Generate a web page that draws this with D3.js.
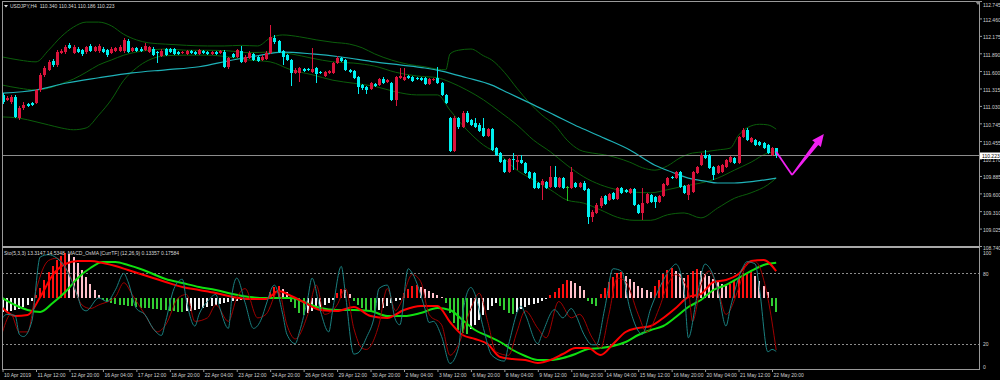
<!DOCTYPE html>
<html>
<head>
<meta charset="utf-8">
<script src="https://cdn.jsdelivr.net/npm/d3@7"></script>
<style>
  body { margin: 0; background: #000; }
  svg { display: block; }
  text { font-family: "Liberation Sans", Arial, sans-serif; }
</style>
</head>
<body>
<script>
// ---- data (USDJPY H4, bar index 1 = 10 Apr 2019 04:00) ----
let firstBar = 1;

let openP = [
  111.21,111.13,111.09,111.18,110.83,111.00,111.06,111.08,111.08,111.29,
  111.54,111.62,111.76,111.70,111.90,111.91,112.02,111.90,111.96,111.94,
  111.91,112.01,111.93,111.93,111.96,111.94,111.90,111.93,111.93,111.93,
  112.09,111.93,111.98,111.96,111.94,111.91,111.96,111.91,111.85,111.96,
  111.96,111.96,111.91,111.90,111.88,111.93,111.91,111.88,111.93,111.91,
  111.88,111.91,111.90,111.91,111.67,111.88,111.83,111.93,111.75,111.81,
  111.88,111.83,111.78,111.80,111.90,112.14,112.09,111.93,111.86,111.78,
  111.57,111.57,111.63,111.63,111.58,111.65,111.58,111.52,111.57,111.57,
  111.73,111.81,111.78,111.62,111.60,111.50,111.37,111.34,111.31,111.39,
  111.37,111.47,111.42,111.40,111.13,111.49,111.45,111.52,111.50,111.49,
  111.49,111.49,111.39,111.45,111.49,111.40,111.21,110.83,110.29,110.83,
  110.68,110.91,110.80,110.75,110.72,110.67,110.54,110.65,110.34,110.26,
  110.15,109.95,110.16,110.11,110.15,110.10,109.95,109.93,109.77,109.74,
  109.79,109.70,109.87,109.70,109.85,109.70,109.69,109.77,109.70,109.77,
  109.67,109.21,109.28,109.39,109.56,109.49,109.61,109.51,109.69,109.66,
  109.61,109.67,109.41,109.28,109.44,109.57,109.54,109.46,109.56,109.74,
  109.87,109.85,109.95,109.72,109.57,109.62,109.93,110.06,110.23,110.23,
  110.03,109.93,109.95,110.03,110.11,110.18,110.10,110.52,110.64,110.44,
  110.47,110.44,110.42,110.39,110.23,110.340
];
let highP = [
  111.24,111.19,111.21,111.21,111.03,111.09,111.08,111.09,111.31,111.57,
  111.68,111.78,111.80,111.94,111.96,112.02,112.06,112.03,111.99,111.96,
  112.01,112.04,112.01,112.04,111.99,111.96,111.99,112.00,112.02,112.14,
  112.12,112.00,112.00,111.99,112.06,112.01,111.99,111.93,111.96,111.98,
  111.98,111.98,111.93,111.93,111.94,111.94,111.93,111.96,111.94,111.93,
  111.93,111.93,111.94,111.94,111.83,111.90,111.96,112.01,111.86,111.93,
  111.90,111.85,111.86,111.93,112.35,112.19,112.11,111.94,111.88,111.80,
  111.65,111.67,111.65,111.65,111.98,111.67,111.60,111.60,111.62,111.75,
  111.85,111.83,111.80,111.63,111.62,111.52,111.39,111.35,111.42,111.40,
  111.49,111.50,111.47,111.42,111.52,111.65,111.65,111.54,111.52,111.50,
  111.50,111.50,111.49,111.49,111.67,111.42,111.22,110.85,110.86,110.85,
  110.95,110.95,110.82,110.83,110.75,110.83,110.67,110.67,110.36,110.28,
  110.16,110.18,110.26,110.23,110.23,110.11,109.97,109.95,109.79,109.83,
  109.80,110.05,110.05,109.87,109.87,109.72,110.03,109.79,109.79,109.80,
  109.69,109.33,109.44,109.56,109.57,109.61,109.62,109.70,109.70,109.67,
  109.69,109.69,109.43,109.69,109.61,109.59,109.56,109.57,109.77,109.87,
  109.88,109.97,109.97,109.74,109.75,109.97,110.05,110.26,110.31,110.24,
  110.05,110.06,110.08,110.16,110.21,110.19,110.54,110.67,110.67,110.52,
  110.49,110.46,110.44,110.41,110.36,110.341
];
let lowP = [
  111.06,111.11,111.06,110.83,110.80,110.96,111.01,111.03,111.06,111.26,
  111.50,111.60,111.67,111.67,111.88,111.88,111.96,111.88,111.90,111.85,
  111.88,111.91,111.91,111.90,111.90,111.83,111.88,111.91,111.91,111.90,
  111.90,111.91,111.91,111.91,111.93,111.90,111.85,111.73,111.83,111.85,
  111.90,111.86,111.86,111.88,111.86,111.88,111.86,111.86,111.88,111.86,
  111.86,111.86,111.88,111.65,111.63,111.81,111.81,111.73,111.73,111.80,
  111.76,111.75,111.76,111.78,111.88,112.04,111.90,111.70,111.76,111.35,
  111.55,111.42,111.58,111.60,111.57,111.40,111.55,111.50,111.55,111.55,
  111.71,111.75,111.60,111.57,111.47,111.22,111.29,111.22,111.29,111.34,
  111.35,111.39,111.40,111.11,111.03,111.47,111.44,111.47,111.42,111.45,
  111.44,111.37,111.37,111.44,111.39,111.19,111.06,110.27,110.27,110.65,
  110.67,110.75,110.70,110.67,110.60,110.52,110.52,110.29,110.21,110.10,
  109.93,109.93,109.98,109.98,110.08,109.92,109.83,109.67,109.67,109.49,
  109.67,109.69,109.69,109.69,109.67,109.48,109.67,109.69,109.69,109.64,
  109.10,109.13,109.26,109.36,109.41,109.48,109.49,109.49,109.59,109.61,
  109.59,109.39,109.26,109.16,109.43,109.44,109.36,109.44,109.54,109.72,
  109.83,109.83,109.69,109.59,109.49,109.61,109.92,110.05,110.16,110.00,
  109.82,109.92,109.93,110.02,110.10,110.08,110.08,110.50,110.46,110.42,
  110.37,110.37,110.33,110.24,110.21,110.186
];
let closeP = [
  111.09,111.16,111.18,110.85,111.00,111.05,111.03,111.05,111.29,111.54,
  111.65,111.75,111.70,111.91,111.93,111.99,111.98,112.00,111.91,111.88,
  111.99,111.93,111.99,112.01,111.91,111.86,111.96,111.98,112.00,112.11,
  111.91,111.98,111.93,111.93,112.01,111.99,111.86,111.90,111.93,111.86,
  111.91,111.88,111.88,111.91,111.93,111.90,111.88,111.94,111.90,111.88,
  111.91,111.88,111.93,111.67,111.81,111.83,111.94,111.75,111.83,111.90,
  111.78,111.76,111.83,111.90,112.16,112.07,111.91,111.83,111.78,111.57,
  111.62,111.65,111.60,111.62,111.63,111.55,111.57,111.58,111.60,111.73,
  111.81,111.76,111.62,111.58,111.49,111.34,111.32,111.29,111.40,111.35,
  111.47,111.40,111.45,111.13,111.50,111.52,111.50,111.49,111.44,111.47,
  111.45,111.39,111.47,111.47,111.40,111.21,111.08,110.29,110.83,110.68,
  110.91,110.77,110.72,110.68,110.62,110.54,110.65,110.31,110.23,110.11,
  109.95,110.16,110.15,110.15,110.10,109.93,109.85,109.69,109.69,109.80,
  109.69,109.87,109.70,109.85,109.69,109.70,109.95,109.70,109.77,109.66,
  109.21,109.30,109.41,109.52,109.43,109.59,109.51,109.69,109.61,109.62,
  109.67,109.41,109.28,109.44,109.59,109.46,109.46,109.56,109.75,109.85,
  109.85,109.95,109.70,109.61,109.74,109.95,110.03,110.23,110.18,110.02,
  109.90,110.05,110.06,110.15,110.19,110.10,110.52,110.64,110.47,110.50,
  110.39,110.39,110.34,110.26,110.34,110.223
];

// moving average (cyan) and Bollinger bands (dark green), read at sample bars
let maIdx = [1,9,16,24,32,40,48,56,62,68,75,82,90,96,102,106,112,118,122,127,133,139,145,151,157,161,165,169,172,176,181,186];
let maVal = [111.24,111.29,111.40,111.49,111.57,111.62,111.67,111.78,111.85,111.91,111.88,111.83,111.75,111.70,111.65,111.60,111.49,111.37,111.24,111.08,110.88,110.68,110.50,110.31,110.06,109.95,109.85,109.80,109.77,109.77,109.80,109.85];

let bbUpIdx = [1,5,9,12,15,18,21,24,27,30,33,36,40,45,50,54,58,62,65,68,72,76,80,84,87,90,94,98,102,105,107,108,110,113,116,118,121,124,127,130,133,136,139,142,145,148,151,154,157,160,163,166,169,172,175,177,179,182,184,186];
let bbUp = [111.83,111.78,111.75,111.94,112.16,112.32,112.40,112.40,112.34,112.20,112.11,112.06,112.04,112.02,112.01,112.01,112.02,112.01,112.14,112.19,112.16,112.11,112.07,112.04,111.98,111.88,111.78,111.71,111.67,111.63,111.62,111.88,111.94,111.96,111.85,111.78,111.58,111.32,111.08,110.88,110.72,110.47,110.31,110.26,110.23,110.18,110.11,110.02,109.98,110.05,110.18,110.26,110.28,110.31,110.34,110.55,110.67,110.73,110.72,110.65];

let bbMidIdx = [1,5,9,12,15,18,21,24,27,30,33,36,40,45,50,55,60,65,70,75,80,85,90,95,100,105,108,112,116,120,124,128,132,136,140,144,148,152,156,160,164,168,172,176,180,184,186];
let bbMid = [111.37,111.32,111.29,111.32,111.39,111.47,111.58,111.70,111.78,111.86,111.91,111.94,111.96,111.94,111.94,111.93,111.90,111.91,111.88,111.81,111.75,111.73,111.68,111.58,111.52,111.49,111.42,111.29,111.13,110.93,110.72,110.47,110.28,110.06,109.87,109.74,109.66,109.62,109.61,109.66,109.72,109.77,109.85,109.98,110.11,110.26,110.28];

let bbLowIdx = bbMidIdx;
let bbLow = [110.85,110.83,110.77,110.72,110.67,110.64,110.67,110.88,111.13,111.45,111.65,111.78,111.85,111.86,111.86,111.83,111.78,111.75,111.62,111.54,111.45,111.40,111.35,111.26,111.21,111.21,110.96,110.64,110.39,110.23,109.98,109.82,109.66,109.49,109.44,109.33,109.21,109.16,109.16,109.25,109.28,109.20,109.36,109.52,109.61,109.74,109.85];

// price axis labels
let priceTicks = [112.745,112.460,112.175,111.890,111.600,111.315,111.030,110.745,110.455,110.170,109.885,109.600,109.310,109.025,108.740];
let lastPrice = 110.223;

// time axis
let timeTickIdx = [1,9,17,25,33,41,49,57,65,73,81,89,97,105,113,121,129,137,145,153,161,169,177,185];
let timeTickLabels = ['10 Apr 2019','11 Apr 12:00','12 Apr 20:00','16 Apr 04:00','17 Apr 12:00','18 Apr 20:00',
  '22 Apr 04:00','23 Apr 12:00','24 Apr 20:00','26 Apr 04:00','29 Apr 12:00','30 Apr 20:00','2 May 04:00',
  '3 May 12:00','6 May 20:00','8 May 04:00','9 May 12:00','10 May 20:00','14 May 04:00','15 May 12:00',
  '16 May 20:00','20 May 04:00','21 May 12:00','22 May 20:00'];

// stochastic (5,3,3)
let stMainIdx = [1,2,4,5,6,8,10,12,14,16,19,20,21,24,26,28,30,31,33,35,37,39,40,42,44,45,47,48,50,52,53,55,56,57,59,61,63,64,66,68,69,71,72,74,75,77,79,80,82,83,85,86,88,90,91,93,95,96,98,99,102,103,104,106,108,110,111,113,114,116,118,121,122,125,126,129,130,133,135,137,138,140,142,143,145,147,149,151,154,156,158,161,162,164,165,167,169,170,172,174,175,178,179,181,182,184,185,186];
let stMain = [42,45,44,28,26,39,94,96,93,85,60,50,48,59,56,66,80,73,50,45,33,27,39,67,75,56,35,45,56,62,50,33,65,76,55,33,42,53,70,45,28,20,30,59,76,48,30,50,86,62,11,12,25,45,67,70,40,36,84,80,50,38,39,26,3,16,45,68,62,33,10,5,19,52,45,20,28,49,42,50,45,28,19,19,50,84,82,50,28,50,67,85,88,65,25,59,88,85,67,35,50,85,90,88,67,13,15,13.3];
let stSigIdx = [1,3,5,7,9,12,14,17,20,22,24,28,30,32,35,38,40,43,45,47,50,52,55,57,59,62,64,67,69,71,74,76,78,81,83,85,87,88,91,93,95,96,99,101,103,106,108,110,113,115,117,119,122,124,126,129,131,134,137,139,142,144,146,148,150,153,155,158,160,162,165,166,168,170,172,174,177,179,181,184,186];
let stSig = [30,45,30,30,65,91,93,79,53,50,53,60,72,62,45,30,36,59,62,39,42,53,39,59,67,42,45,65,36,24,45,70,45,53,67,33,16,15,36,67,48,53,79,73,45,36,10,19,50,63,39,13,10,30,48,33,25,56,42,45,25,16,45,76,73,45,30,50,70,79,65,39,70,82,67,45,67,88,90,59,14.5];

// MACD (12,26,9): main (red) and signal (green), read at sample bars
let macdIdx = [1,4,7,10,13,16,19,22,25,28,31,34,37,40,44,48,52,56,60,64,67,70,73,77,81,85,89,93,97,101,105,108,111,114,117,120,123,126,129,132,135,138,141,144,147,150,153,156,159,162,165,168,171,174,177,180,183,186];
let macdMain = [-0.050,-0.090,-0.085,0.005,0.115,0.170,0.185,0.185,0.175,0.160,0.140,0.120,0.100,0.080,0.055,0.040,0.025,0.005,-0.005,-0.005,0.035,0.010,-0.020,-0.060,-0.065,-0.045,-0.090,-0.100,-0.060,-0.040,-0.040,-0.120,-0.185,-0.205,-0.230,-0.295,-0.305,-0.310,-0.325,-0.310,-0.280,-0.250,-0.250,-0.285,-0.230,-0.170,-0.150,-0.140,-0.100,-0.050,0.005,0.020,0.080,0.090,0.120,0.185,0.190,0.134];
let macdSignal = [0.000,-0.035,-0.060,-0.070,-0.025,0.030,0.100,0.150,0.180,0.180,0.165,0.145,0.120,0.095,0.075,0.055,0.040,0.020,0.005,0.000,0.000,0.000,-0.020,-0.050,-0.060,-0.060,-0.065,-0.090,-0.090,-0.075,-0.050,-0.060,-0.110,-0.160,-0.190,-0.220,-0.260,-0.290,-0.310,-0.310,-0.300,-0.280,-0.255,-0.250,-0.240,-0.220,-0.185,-0.160,-0.140,-0.095,-0.045,-0.010,0.040,0.065,0.100,0.135,0.165,0.176];

// OsMA histogram, one value per bar
let osma = [
  -0.042,-0.040,-0.039,-0.037,-0.034,-0.028,-0.020,-0.010,
  0.009,0.030,0.054,0.078,0.096,0.114,0.126,0.135,
  0.132,0.123,0.105,0.084,0.063,0.042,0.024,0.009,
  -0.006,-0.012,-0.015,-0.018,-0.020,-0.021,-0.024,-0.025,-0.026,-0.029,-0.030,-0.031,-0.033,-0.034,-0.035,-0.037,-0.038,-0.039,-0.041,-0.042,
  -0.040,-0.038,-0.035,-0.033,-0.030,-0.027,-0.024,-0.021,-0.018,-0.015,-0.012,-0.009,
  -0.008,-0.006,-0.004,-0.005,-0.003,-0.002,-0.001,0.003,
  0.018,0.033,0.036,0.027,0.018,
  -0.012,-0.030,-0.045,-0.051,
  -0.045,-0.039,-0.033,-0.027,-0.021,-0.015,-0.006,
  0.015,0.027,0.024,0.012,
  -0.009,-0.021,-0.030,-0.036,-0.039,-0.042,
  -0.036,-0.030,-0.024,-0.015,-0.009,-0.006,
  0.015,0.027,0.036,0.039,0.033,
  0.027,0.021,0.015,0.009,0.003,
  -0.015,-0.045,-0.075,-0.096,-0.105,-0.108,
  -0.093,-0.081,-0.066,-0.051,-0.036,-0.024,-0.015,
  -0.024,-0.036,-0.045,-0.048,
  -0.042,-0.033,-0.027,-0.021,-0.018,-0.015,-0.009,-0.003,
  0.009,0.018,0.030,0.042,0.054,0.051,0.045,0.036,0.024,
  -0.009,-0.018,-0.024,
  0.012,0.030,0.048,0.063,0.075,0.078,
  0.066,0.057,0.048,0.036,0.030,0.024,
  0.018,
  0.036,0.054,0.072,0.084,0.090,
  0.081,0.072,0.060,
  0.069,0.081,0.087,
  0.081,0.072,0.066,0.057,0.048,0.042,0.036,
  0.042,0.051,0.060,0.069,0.075,0.078,
  0.066,0.051,0.036,
  0.018,-0.024,-0.042
];

// hand-drawn magenta arrow (bar index, price)
let arrowIdx = [186, 189.8, 197.4];
let arrowPrice = [110.28, 109.90, 110.57];

let titleText = 'USDJPY,H4  110.340 110.341 110.186 110.223';
let subTitle = 'Sto(5,3,3) 13.3147 14.5348  MACD_OsMA [CurrTF] (12,26,9) 0.13357 0.17584';

// ---- layout ----
let w = 1000, h = 380;
let frameL = 2, frameR = 979;
let frameT = 2, sepY = 246, frameB = 369;

let xScale = d3.scaleLinear().domain([9, 185]).range([36, 772]);
let yPrice = d3.scaleLinear().domain([108.740, 112.745]).range([246, 1]);
let yStoch = d3.scaleLinear().domain([0, 100]).range([367, 250]);
let yMacd = d3.scaleLinear().domain([0, 0.25]).range([298, 248]);
let yOsma = d3.scaleLinear().domain([0, 0.15]).range([298, 248]);

let svg = d3.select('body').append('svg')
  .attr('width', w).attr('height', h)
  .style('background', '#000');

let defs = svg.append('defs');
defs.append('clipPath').attr('id', 'clipTop').append('rect')
  .attr('x', frameL + 1).attr('y', frameT).attr('width', frameR - frameL - 1).attr('height', sepY - frameT - 1);
defs.append('clipPath').attr('id', 'clipBot').append('rect')
  .attr('x', frameL + 1).attr('y', sepY + 2).attr('width', frameR - frameL - 1).attr('height', frameB - sepY - 2);

let topG = svg.append('g').attr('clip-path', 'url(#clipTop)');
let botG = svg.append('g').attr('clip-path', 'url(#clipBot)');

let bars = d3.range(openP.length).map((k) => {
  return { i: k + firstBar, o: openP[k], h: highP[k], l: lowP[k], c: closeP[k] };
});

let pairs = (idx, vals) => idx.map((d, k) => [d, vals[k]]);

// bands and MA
let priceLine = d3.line().x((d) => xScale(d[0])).y((d) => yPrice(d[1])).curve(d3.curveMonotoneX);
[[bbUpIdx, bbUp], [bbMidIdx, bbMid], [bbLowIdx, bbLow]].forEach((s) => {
  topG.append('path').datum(pairs(s[0], s[1]))
    .attr('d', priceLine).attr('fill', 'none')
    .attr('stroke', '#0b5e0b').attr('stroke-width', 1);
});
topG.append('path').datum(pairs(maIdx, maVal))
  .attr('d', priceLine).attr('fill', 'none')
  .attr('stroke', '#1fb2b8').attr('stroke-width', 1.2);

// last price line
topG.append('line')
  .attr('x1', frameL).attr('x2', frameR)
  .attr('y1', Math.round(yPrice(lastPrice)) + 0.5).attr('y2', Math.round(yPrice(lastPrice)) + 0.5)
  .attr('stroke', '#8c8c8c').attr('stroke-width', 1);

// candles
let candleColor = (d) => {
  if (d.c > d.o) return '#dc143c';
  if (d.c < d.o) return '#00f0f0';
  return '#22c022';
};
let cg = topG.append('g').attr('shape-rendering', 'crispEdges');
cg.selectAll('line.wick').data(bars).enter().append('line')
  .attr('class', 'wick')
  .attr('x1', (d) => Math.round(xScale(d.i)) + 0.5)
  .attr('x2', (d) => Math.round(xScale(d.i)) + 0.5)
  .attr('y1', (d) => yPrice(d.h))
  .attr('y2', (d) => yPrice(d.l))
  .attr('stroke', candleColor);
cg.selectAll('rect.body').data(bars).enter().append('rect')
  .attr('class', 'body')
  .attr('x', (d) => Math.round(xScale(d.i)) - 1)
  .attr('width', 3)
  .attr('y', (d) => yPrice(Math.max(d.o, d.c)))
  .attr('height', (d) => Math.max(1, Math.abs(yPrice(d.o) - yPrice(d.c))))
  .attr('fill', candleColor);

// magenta arrow
let ap = arrowIdx.map((d, k) => [xScale(d), yPrice(arrowPrice[k])]);
topG.append('line')
  .attr('x1', ap[0][0]).attr('y1', ap[0][1]).attr('x2', ap[1][0]).attr('y2', ap[1][1])
  .attr('stroke', '#f020f0').attr('stroke-width', 1.8);
{
  let dx = ap[2][0] - ap[1][0], dy = ap[2][1] - ap[1][1];
  let len = Math.sqrt(dx * dx + dy * dy);
  let ux = dx / len, uy = dy / len, nx = -uy, ny = ux;
  let headLen = 12, headW = 5.5;
  let bx = ap[2][0] - ux * headLen, by = ap[2][1] - uy * headLen;
  let shaft = [
    [ap[1][0] + nx * 0.8, ap[1][1] + ny * 0.8],
    [bx + nx * 2.2, by + ny * 2.2],
    [bx + nx * headW, by + ny * headW],
    [ap[2][0], ap[2][1]],
    [bx - nx * headW, by - ny * headW],
    [bx - nx * 2.2, by - ny * 2.2],
    [ap[1][0] - nx * 0.8, ap[1][1] - ny * 0.8]
  ];
  topG.append('polygon')
    .attr('points', shaft.map((p) => p.join(',')).join(' '))
    .attr('fill', '#f020f0');
}

// ---- lower panel ----
// level lines
[80, 20].forEach((v) => {
  botG.append('line')
    .attr('x1', frameL).attr('x2', frameR)
    .attr('y1', Math.round(yStoch(v)) + 0.5).attr('y2', Math.round(yStoch(v)) + 0.5)
    .attr('stroke', '#8c8c8c').attr('stroke-dasharray', '2,2');
});

// OsMA histogram
let osmaColor = (v, k) => {
  let prev = k > 0 ? osma[k - 1] : v - 0.003;
  if (v >= 0) return v >= prev ? '#ff1010' : '#ffc0cb';
  return v < prev ? '#32cd32' : '#f4f4f4';
};
botG.append('g').attr('shape-rendering', 'crispEdges')
  .selectAll('rect').data(osma).enter().append('rect')
  .attr('x', (d, k) => Math.round(xScale(k + firstBar)) - 1)
  .attr('width', 2)
  .attr('y', (d) => Math.min(yOsma(d), yOsma(0)))
  .attr('height', (d) => Math.abs(yOsma(d) - yOsma(0)))
  .attr('fill', osmaColor);

// MACD lines
let macdLine = d3.line().x((d) => xScale(d[0])).y((d) => yMacd(d[1])).curve(d3.curveMonotoneX);
botG.append('path').datum(pairs(macdIdx, macdSignal))
  .attr('d', macdLine).attr('fill', 'none').attr('stroke', '#10e010').attr('stroke-width', 2);
botG.append('path').datum(pairs(macdIdx, macdMain))
  .attr('d', macdLine).attr('fill', 'none').attr('stroke', '#ff0000').attr('stroke-width', 2);

// stochastic lines
let stLine = d3.line().x((d) => xScale(d[0])).y((d) => yStoch(d[1])).curve(d3.curveMonotoneX);
botG.append('path').datum(pairs(stSigIdx, stSig))
  .attr('d', stLine).attr('fill', 'none').attr('stroke', '#a00000').attr('stroke-width', 1);
botG.append('path').datum(pairs(stMainIdx, stMain))
  .attr('d', stLine).attr('fill', 'none').attr('stroke', '#1a8080').attr('stroke-width', 1);

// ---- frames ----
let frame = svg.append('g').attr('shape-rendering', 'crispEdges');
frame.append('rect').attr('x', frameL + 0.5).attr('y', frameT - 0.5)
  .attr('width', frameR - frameL).attr('height', frameB - frameT + 0.5)
  .attr('fill', 'none').attr('stroke', '#9a9a9a');
frame.append('rect').attr('x', frameL).attr('y', sepY - 0.5).attr('width', frameR - frameL + 1).attr('height', 2)
  .attr('fill', '#a8a8a8');

// ---- axes ----
let styleAxis = (g) => {
  g.select('.domain').remove();
  g.selectAll('line').attr('stroke', '#9a9a9a');
  g.selectAll('text').attr('fill', '#d0d0d0').attr('font-size', '5px')
    .attr('font-family', '"Liberation Sans", Arial, sans-serif');
};

let pAxis = svg.append('g').attr('transform', `translate(${frameR},0)`)
  .call(d3.axisRight(yPrice).tickValues(priceTicks).tickSize(3).tickPadding(1).tickFormat(d3.format('.3f')));
styleAxis(pAxis);
pAxis.selectAll('text').attr('dy', (d) => d === priceTicks[0] ? '1.1em' : '0.6em');

let sAxis = svg.append('g').attr('transform', `translate(${frameR},0)`)
  .call(d3.axisRight(yStoch).tickValues([100, 80, 20, 0]).tickSize(0).tickPadding(4).tickFormat(d3.format('d')));
styleAxis(sAxis);
sAxis.selectAll('text').attr('dy', (d) => d === 100 ? '0.9em' : '0.32em');

let tAxis = svg.append('g').attr('transform', `translate(0,${frameB})`)
  .call(d3.axisBottom(xScale).tickValues(timeTickIdx).tickSize(3)
    .tickFormat((d, k) => timeTickLabels[k]));
styleAxis(tAxis);
tAxis.selectAll('text').attr('text-anchor', 'start').attr('x', 1).attr('y', 4);

// last price label (drawn over the axis, as in the terminal)
let lpY = Math.round(yPrice(lastPrice)) + 0.5;
svg.append('rect').attr('x', frameR + 1).attr('y', lpY - 3).attr('width', 21).attr('height', 6.5).attr('fill', '#ffffff');
svg.append('text').attr('x', frameR + 3).attr('y', lpY + 2)
  .attr('font-size', '5px').attr('fill', '#000').text(lastPrice.toFixed(3));

// titles
svg.append('path').attr('d', 'M4,5 L8,5 L6,7.5 Z').attr('fill', '#e0e0e0');
svg.append('text').attr('x', 10).attr('y', 8).attr('font-size', '5px').attr('fill', '#d8d8d8')
  .attr('xml:space', 'preserve').text(titleText);
svg.append('text').attr('x', 4).attr('y', 255).attr('font-size', '5px').attr('fill', '#d8d8d8')
  .attr('xml:space', 'preserve').text(subTitle);
// chart shift marker
svg.append('path').attr('d', 'M975,1 L981,1 L978,5 Z').attr('fill', '#8c8c8c');
</script>
</body>
</html>
